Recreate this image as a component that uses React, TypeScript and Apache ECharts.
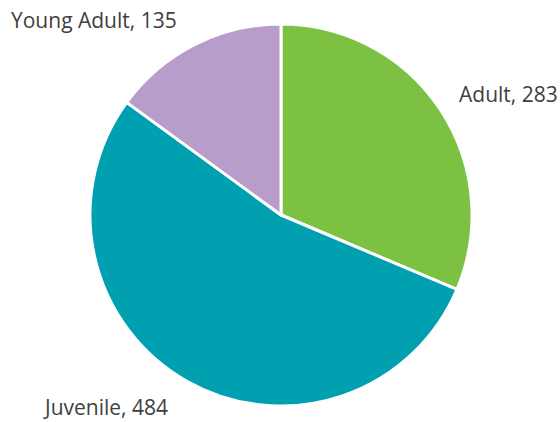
import React, { useEffect, useRef } from "react";
import * as echarts from "echarts";

const categories = ["Adult", "Juvenile", "Young Adult"];
const values = [283, 484, 135];
const colors = ["#7DC142", "#00A0B0", "#B89DCB"];

export default function App() {
  const ref = useRef<HTMLDivElement>(null);
  useEffect(() => {
    if (!ref.current) return;
    const chart = echarts.init(ref.current, undefined, { renderer: "svg" });
    const labelPos = [
      { x: 459, y: 94 },
      { x: 45, y: 407 },
      { x: 11, y: 20 },
    ];
    chart.setOption({
      animation: false,
      series: [
        {
          type: "pie",
          center: [281, 215],
          radius: [0, 191],
          startAngle: 90,
          clockwise: true,
          data: categories.map((c, i) => ({
            name: c,
            value: values[i],
            itemStyle: { color: colors[i] },
          })),
          itemStyle: { borderColor: "#ffffff", borderWidth: 3 },
          label: {
            show: true,
            position: "outside",
            formatter: "{b}, {c}",
            color: "#404040",
            fontFamily: "Open Sans",
            fontSize: 21,
            lineHeight: 21,
            overflow: "none",
            width: 300,
          },
          labelLine: { show: false },
          labelLayout: (params: any) => {
            const p = labelPos[params.dataIndex];
            return { x: p.x, y: p.y, align: "left", verticalAlign: "middle" };
          },
          emphasis: { disabled: true },
        },
      ],
    });
    return () => chart.dispose();
  }, []);
  return <div ref={ref} style={{ width: 560, height: 422, position: "absolute", left: 0, top: 0 }} />;
}
